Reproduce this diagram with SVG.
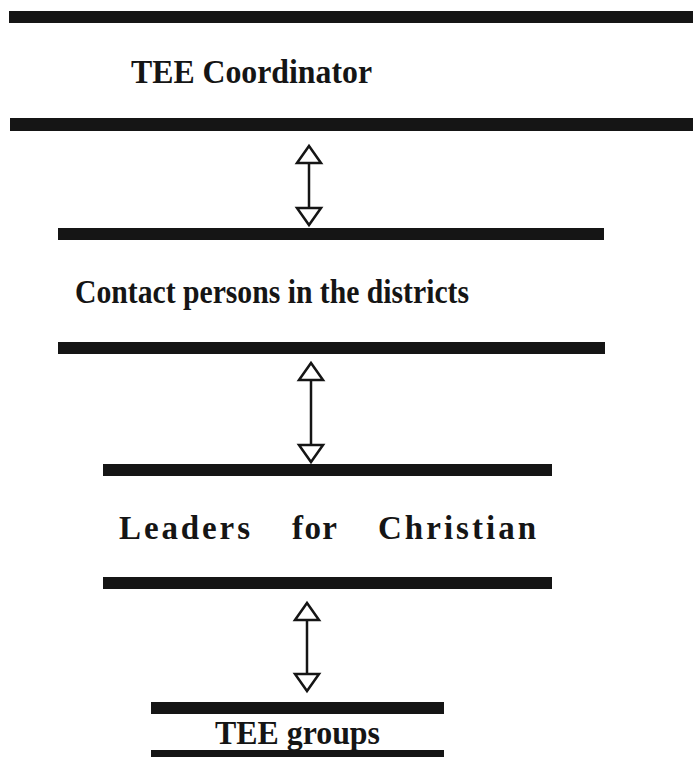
<svg xmlns="http://www.w3.org/2000/svg" width="693" height="757" viewBox="0 0 693 757">
<style>
.bar{fill:#151515}
.lbl{font-family:"Liberation Serif","Times New Roman",serif;font-weight:bold;font-size:33px;fill:#151515}
.conn{stroke:#151515;stroke-width:2.5;fill:none}
</style>
<defs>
<marker id="ah" viewBox="-3 -15 23 30" markerWidth="23" markerHeight="30" refX="17" refY="0" markerUnits="userSpaceOnUse" orient="auto-start-reverse">
<path d="M0,-12 L17,0 L0,12 Z" fill="#fff" stroke="#151515" stroke-width="2.5" stroke-linejoin="miter"/>
</marker>
</defs>
<rect width="693" height="757" fill="#fff"/>
<g id="node-coordinator">
<rect class="bar" x="9" y="11" width="684" height="12"/>
<text class="lbl" x="131" y="83" textLength="241" lengthAdjust="spacingAndGlyphs">TEE Coordinator</text>
<rect class="bar" x="10" y="118" width="683" height="13"/>
</g>
<g id="node-contacts">
<rect class="bar" x="58" y="228" width="546" height="12"/>
<text class="lbl" x="75" y="303" textLength="394" lengthAdjust="spacingAndGlyphs">Contact persons in the districts</text>
<rect class="bar" x="58" y="342" width="547" height="12"/>
</g>
<g id="node-leaders">
<rect class="bar" x="103" y="464" width="449" height="12"/>
<text class="lbl" y="539"><tspan x="119" textLength="131" lengthAdjust="spacing">Leaders</tspan><tspan x="292" textLength="45" lengthAdjust="spacing">for</tspan><tspan x="378" textLength="158" lengthAdjust="spacing">Christian</tspan></text>
<rect class="bar" x="103" y="577" width="449" height="12"/>
</g>
<g id="node-groups">
<rect class="bar" x="151" y="702" width="293" height="12"/>
<text class="lbl" x="215" y="744" textLength="165" lengthAdjust="spacingAndGlyphs">TEE groups</text>
<rect class="bar" x="151" y="750" width="293" height="7"/>
</g>
<g id="connectors">
<line class="conn" x1="309" y1="146" x2="309" y2="225" marker-start="url(#ah)" marker-end="url(#ah)"/>
<line class="conn" x1="311" y1="363" x2="311" y2="462" marker-start="url(#ah)" marker-end="url(#ah)"/>
<line class="conn" x1="307" y1="603" x2="307" y2="691" marker-start="url(#ah)" marker-end="url(#ah)"/>
</g>
</svg>
